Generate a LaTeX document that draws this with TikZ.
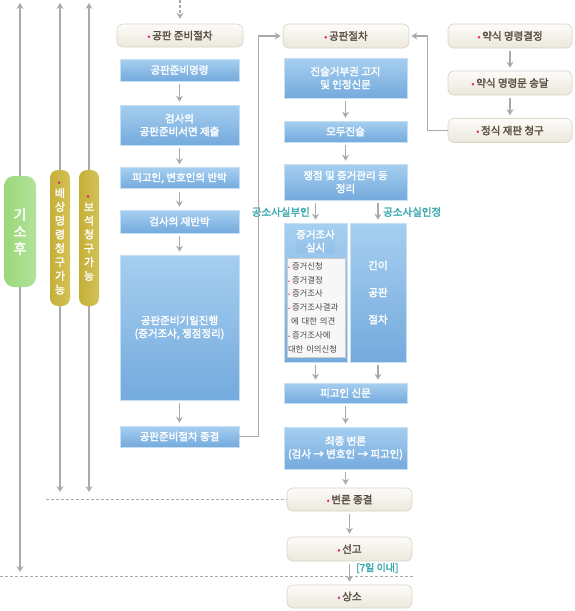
\documentclass[tikz,border=0pt]{standalone}
\usepackage{fontspec}
\setmainfont{Noto Sans CJK KR}[AutoFakeBold=2.2]
\usetikzlibrary{arrows.meta}
\definecolor{bluetop}{HTML}{A6CFF0}
\definecolor{bluebot}{HTML}{74AADD}
\definecolor{blueedge}{HTML}{C8E0F4}
\definecolor{creamtop}{HTML}{FDFCF9}
\definecolor{creambot}{HTML}{EBE7DC}
\definecolor{creamedge}{HTML}{D9D4C7}
\definecolor{creamtext}{HTML}{5A4E43}
\definecolor{starpink}{HTML}{E5226E}
\definecolor{conn}{HTML}{AAAAAA}
\definecolor{tealtxt}{HTML}{3AA8AE}
\definecolor{greenL}{HTML}{9AD77A}
\definecolor{greenR}{HTML}{B3E39A}
\definecolor{oliveL}{HTML}{C4AF38}
\definecolor{oliveR}{HTML}{D4C257}
\definecolor{bulletred}{HTML}{E8583A}
\definecolor{listtext}{HTML}{4A4A4A}
\newcommand{\pstar}{{\color{starpink}\fontsize{9}{9}\selectfont •}\,}
\newcommand{\lbul}{\makebox[4pt][l]{\color{bulletred}\fontsize{6}{6}\selectfont •}}
\tikzset{
  bluebox/.style={draw=blueedge, line width=0.6pt, top color=bluetop, bottom color=bluebot,
    text=white, align=center, inner sep=0pt, font=\fontsize{10.5}{13}\selectfont\bfseries},
  creambox/.style={draw=creamedge, line width=0.6pt, top color=creamtop, bottom color=creambot,
    rounded corners=6pt, text=creamtext, align=center, inner sep=0pt,
    font=\fontsize{10.5}{12}\selectfont\bfseries},
  greenbar/.style={left color=greenL, right color=greenR, draw=none, rounded corners=10pt,
    text=white, align=center, inner sep=0pt, font=\fontsize{14}{17}\selectfont\bfseries},
  olivebar/.style={left color=oliveL, right color=oliveR, draw=none, rounded corners=8pt,
    text=white, align=center, inner sep=0pt, font=\fontsize{11}{13.8}\selectfont\bfseries},
  connline/.style={draw=conn, line width=1.3pt, -{Stealth[length=6pt,width=7pt,inset=2pt]}},
  flow/.style={connline, shorten >=3pt, shorten <=3pt},
  dashline/.style={draw=conn, line width=0.8pt, dash pattern=on 3pt off 2pt},
  teallabel/.style={text=tealtxt, inner sep=0pt, font=\fontsize{10.5}{12}\selectfont\bfseries},
}
\begin{document}
\begin{tikzpicture}[x=1pt,y=-1pt]
\useasboundingbox[fill=white] (0,0) rectangle (574,611);

% ---- left bars and their arrows
\coordinate (gtop) at (20,3);
\coordinate (gbot) at (20,572);
\coordinate (btop) at (60,3);
\coordinate (bbot) at (60,492);
\coordinate (stop) at (89,3);
\coordinate (sbot) at (89,492);
\draw[connline] (20,231) -- (gtop);
\draw[connline] (20,231) -- (gbot);
\draw[connline] (60,238) -- (btop);
\draw[connline] (60,238) -- (bbot);
\draw[connline] (89,238) -- (stop);
\draw[connline] (89,238) -- (sbot);
\node[greenbar, minimum width=32pt, minimum height=111pt] (green) at (20,231.5) {기\\소\\후};
\node[olivebar, minimum width=20pt, minimum height=136pt] (baesang) at (60,238) {\pstar\\[-2pt]배\\상\\명\\령\\청\\구\\가\\능};
\node[olivebar, minimum width=20pt, minimum height=136pt] (boseok) at (89,238) {\pstar\\[-2pt]보\\석\\청\\구\\가\\능};

% ---- middle column (공판 준비절차)
\node[creambox, minimum width=126pt, minimum height=23pt] (jb) at (180,35.5) {\pstar 공판 준비절차};
\node[bluebox, minimum width=119pt, minimum height=22pt] (m1) at (179.5,70) {공판준비명령};
\node[bluebox, minimum width=119pt, minimum height=40pt] (m2) at (179.5,125) {검사의\\공판준비서면 제출};
\node[bluebox, minimum width=119pt, minimum height=21pt] (m3) at (179.5,178) {피고인, 변호인의 반박};
\node[bluebox, minimum width=119pt, minimum height=23pt] (m4) at (179.5,221.5) {검사의 재반박};
\node[bluebox, minimum width=119pt, minimum height=145pt] (m5) at (179.5,327.5) {공판준비기일진행\\(증거조사, 쟁점정리)};
\node[bluebox, minimum width=119pt, minimum height=21pt] (m6) at (179.5,436.5) {공판준비절차 종결};

\coordinate (topin) at (180,0);
\draw[dashline, -{Stealth[length=6pt,width=7pt,inset=2pt]}, line width=1.3pt, shorten >=5pt] (topin) -- (jb.north);
\draw[flow] (m1) -- (m2);
\draw[flow] (m2) -- (m3);
\draw[flow] (m3) -- (m4);
\draw[flow] (m4) -- (m5);
\draw[flow] (m5) -- (m6);

% ---- 공판절차 column
\node[creambox, minimum width=126pt, minimum height=24pt] (gp) at (346,36) {\pstar 공판절차};
\node[bluebox, minimum width=123pt, minimum height=40pt] (r1) at (345.5,78) {진술거부권 고지\\및 인정신문};
\node[bluebox, minimum width=123pt, minimum height=21pt] (r2) at (345.5,131.5) {모두진술};
\node[bluebox, minimum width=123pt, minimum height=36pt] (r3) at (345.5,182) {쟁점 및 증거관리 등\\정리};
\node[bluebox, minimum width=63pt, minimum height=139pt] (jg) at (315.5,292.5) {};
\node[bluebox, draw=none, top color=bluetop!90!bluebot, bottom color=bluetop!60!bluebot] (jgtitle) at (315.5,241) {증거조사\\실시};
\node[draw=gray!40, fill=gray!6, minimum width=58pt, minimum height=99pt, inner sep=0pt,
      text=listtext, align=left, text width=56pt, font=\fontsize{8.4}{13.8}\selectfont] (jglist) at (316,307.5)
  {\lbul 증거신청\\\lbul 증거결정\\\lbul 증거조사\\\lbul 증거조사결과\\\hspace*{3pt}에 대한 의견\\\lbul 증거조사에\\대한 이의신청};
\node[bluebox, minimum width=56pt, minimum height=139pt, font=\fontsize{10.5}{27}\selectfont\bfseries] (gani) at (378,292.5) {간이\\공판\\절차};
\node[bluebox, minimum width=123pt, minimum height=20pt] (r4) at (345.5,393) {피고인 신문};
\node[bluebox, minimum width=123pt, minimum height=42pt] (r5) at (345.5,448) {최종 변론\\(검사 → 변호인 → 피고인)};
\node[creambox, minimum width=125pt, minimum height=23pt] (bj) at (349.5,499.5) {\pstar 변론 종결};
\node[creambox, minimum width=125pt, minimum height=24pt] (sg) at (349.5,549) {\pstar 선고};
\node[creambox, minimum width=125pt, minimum height=23pt] (ss) at (349.5,596.5) {\pstar 상소};

\draw[flow] (r1) -- (r2);
\draw[flow] (r2) -- (r3);
\draw[flow] (r3.south -| jg.north) -- (jg.north);
\draw[flow] (r3.south -| gani.north) -- (gani.north);
\draw[flow] (jg.south) -- (jg.south |- r4.north);
\draw[flow] (gani.south) -- (gani.south |- r4.north);
\draw[flow] (r4) -- (r5);
\draw[flow] (r5.south) -- (r5.south |- bj.north);
\draw[flow] (bj.south) -- (bj.south |- sg.north);
\draw[flow] (sg) -- (ss);

\node[teallabel, anchor=east] (bu) at (310,212) {공소사실부인};
\node[teallabel, anchor=west] (in) at (383,212) {공소사실인정};
\node[teallabel, anchor=west, font=\fontsize{10}{11}\selectfont\bfseries] (ilnae) at (356,568) {[7일 이내]};

% ---- 약식 column
\node[creambox, minimum width=124pt, minimum height=24pt] (y1) at (510,36) {\pstar 약식 명령결정};
\node[creambox, minimum width=124pt, minimum height=24pt] (y2) at (510,83) {\pstar 약식 명령문 송달};
\node[creambox, minimum width=124pt, minimum height=24pt] (y3) at (510,130.5) {\pstar 정식 재판 청구};
\draw[flow] (y1) -- (y2);
\draw[flow] (y2) -- (y3);

% ---- long connectors
\draw[connline, shorten >=2pt] (m6.east) -- ++(19,0) |- (gp.west);
\draw[connline, shorten >=2pt] (y3.west) -- ++(-20,0) |- (gp.east);

% ---- dashed separators
\coordinate (d1) at (46,499.5);
\coordinate (d2a) at (0,576);
\coordinate (d2b) at (413,576);
\draw[dashline] (d1) -- (bj.west);
\draw[dashline] (d2a) -- (d2b);
\end{tikzpicture}
\end{document}
